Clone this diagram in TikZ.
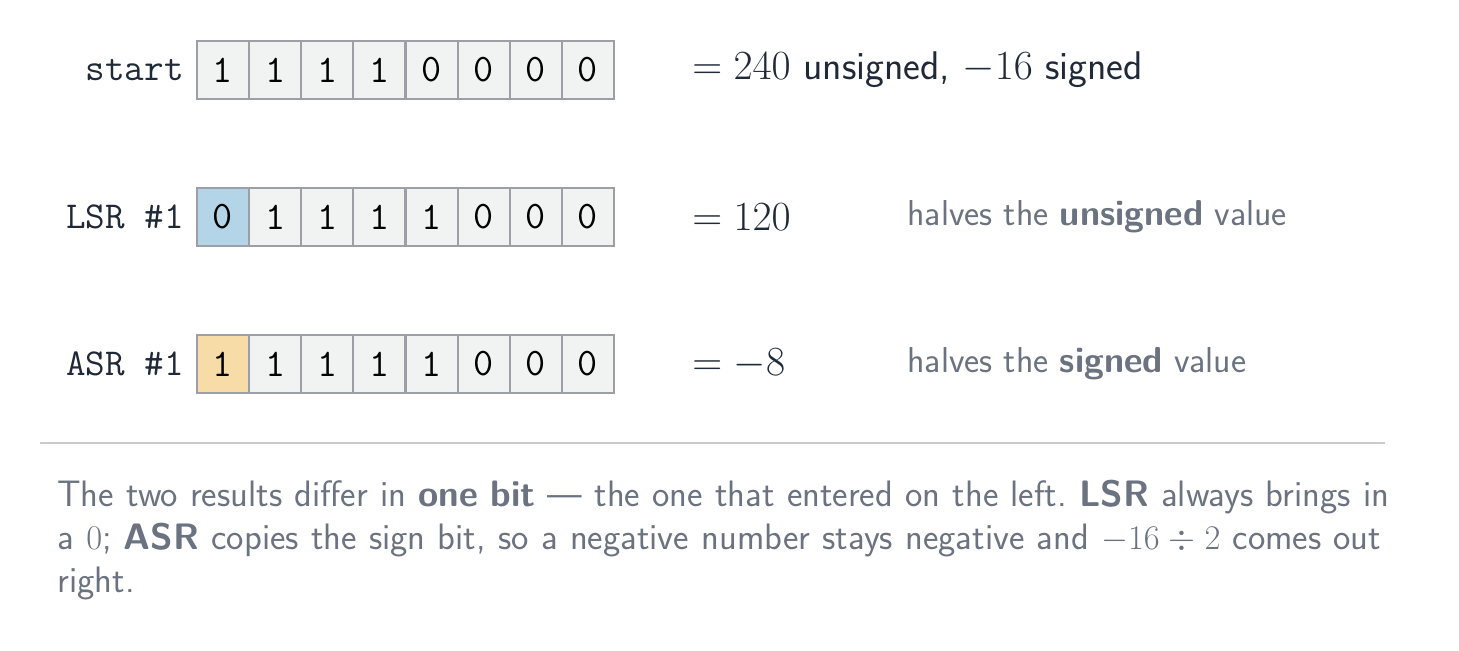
\documentclass[tikz,border=0pt]{standalone}
\usepackage{fontspec}
\definecolor{ink}{HTML}{1F2937}
\definecolor{muted}{HTML}{6B7280}
\definecolor{cellfill}{HTML}{F1F3F2}
\definecolor{cellline}{HTML}{9CA0A6}
\definecolor{lsrfill}{HTML}{B4D5E8}
\definecolor{asrfill}{HTML}{F7DCA8}
\definecolor{rule}{HTML}{C8CACE}
\begin{document}
\begin{tikzpicture}[x=0.5pt,y=-0.5pt,
  bitcell/.style={draw=cellline,line width=1pt,fill=cellfill,minimum width=26pt,minimum height=29pt,inner sep=0pt,anchor=west,font=\fontsize{19.5}{21}\selectfont\ttfamily,text=black},
  rowlabel/.style={anchor=east,font=\fontsize{19}{21}\selectfont\ttfamily,text=ink,inner sep=0pt},
  valtext/.style={anchor=west,font=\fontsize{20}{24}\selectfont\sffamily,text=ink,inner sep=0pt},
  notetext/.style={anchor=west,font=\fontsize{18}{21}\selectfont\sffamily,text=muted,inner sep=0pt}]
\useasboundingbox (0,0) rectangle (1459,650);
% row 1
\node[rowlabel] (l1) at (184,70) {start};
\foreach \b [count=\i from 0] in {1,1,1,1,0,0,0,0}
  \node[bitcell] (a\i) at (196+52.125*\i,70) {\b};
\node[valtext] (v1) at (692,70) {$=240$ unsigned, $-16$ signed};
% row 2
\node[rowlabel] (l2) at (184,217) {LSR \#1};
\foreach \b [count=\i from 0] in {0,1,1,1,1,0,0,0}
  \node[bitcell] (b\i) at (196+52.125*\i,217) {\b};
\node[bitcell,fill=lsrfill] at (b0.west) {0};
\node[valtext] (v2) at (692,217) {$=120$};
\node[notetext] (n2) at (907,217) {halves the \textbf{unsigned} value};
% row 3
\node[rowlabel] (l3) at (184,364) {ASR \#1};
\foreach \b [count=\i from 0] in {1,1,1,1,1,0,0,0}
  \node[bitcell] (c\i) at (196+52.125*\i,364) {\b};
\node[bitcell,fill=asrfill] at (c0.west) {1};
\node[valtext] (v3) at (692,364) {$=-8$};
\node[notetext] (n3) at (907,364) {halves the \textbf{signed} value};
% rule
\coordinate (r1) at (40,443);
\coordinate (r2) at (1385,443);
\draw[rule,line width=1pt] (r1) -- (r2);
% paragraph
\node[anchor=north west,inner sep=0pt,text width=674pt,align=left,font=\fontsize{18.4}{21.5}\selectfont\sffamily\frenchspacing,text=muted] (para) at (57,480)
{The two results differ in \textbf{one bit} --- the one that entered on the left. \textbf{LSR} always brings in a $0$; \textbf{ASR} copies the sign bit, so a negative number stays negative and $-16\div2$ comes out right.};
\end{tikzpicture}
\end{document}
